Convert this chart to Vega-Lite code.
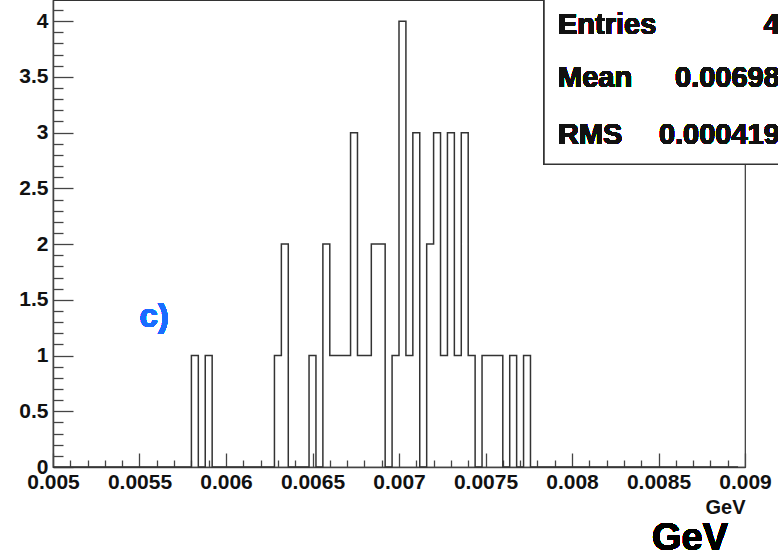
{
  "$schema": "https://vega.github.io/schema/vega-lite/v6.json",
  "width": 692,
  "height": 467,
  "autosize": {"type": "none"},
  "padding": {"left": 53, "top": 0, "right": 33, "bottom": 88},
  "background": "white",
  "config": {
    "view": {"stroke": "#333", "strokeWidth": 1.2},
    "axis": {
      "domainColor": "#444", "domainWidth": 1.5, "tickColor": "#444", "tickWidth": 1.3,
      "labelFont": "Liberation Sans", "labelFontWeight": "bold", "labelFontSize": 21, "labelColor": "#111",
      "titleFont": "Liberation Sans", "titleFontWeight": "bold", "titleFontSize": 20, "titleColor": "#111",
      "grid": false
    }
  },
  "data": {"values": [
    {"lo":0.005,"n":0},{"lo":0.00504,"n":0},{"lo":0.00508,"n":0},{"lo":0.00512,"n":0},{"lo":0.00516,"n":0},
    {"lo":0.0052,"n":0},{"lo":0.00524,"n":0},{"lo":0.00528,"n":0},{"lo":0.00532,"n":0},{"lo":0.00536,"n":0},
    {"lo":0.0054,"n":0},{"lo":0.00544,"n":0},{"lo":0.00548,"n":0},{"lo":0.00552,"n":0},{"lo":0.00556,"n":0},
    {"lo":0.0056,"n":0},{"lo":0.00564,"n":0},{"lo":0.00568,"n":0},{"lo":0.00572,"n":0},{"lo":0.00576,"n":0},
    {"lo":0.0058,"n":1},{"lo":0.00584,"n":0},{"lo":0.00588,"n":1},{"lo":0.00592,"n":0},{"lo":0.00596,"n":0},
    {"lo":0.006,"n":0},{"lo":0.00604,"n":0},{"lo":0.00608,"n":0},{"lo":0.00612,"n":0},{"lo":0.00616,"n":0},
    {"lo":0.0062,"n":0},{"lo":0.00624,"n":0},{"lo":0.00628,"n":1},{"lo":0.00632,"n":2},{"lo":0.00636,"n":0},
    {"lo":0.0064,"n":0},{"lo":0.00644,"n":0},{"lo":0.00648,"n":1},{"lo":0.00652,"n":0},{"lo":0.00656,"n":2},
    {"lo":0.0066,"n":1},{"lo":0.00664,"n":1},{"lo":0.00668,"n":1},{"lo":0.00672,"n":3},{"lo":0.00676,"n":1},
    {"lo":0.0068,"n":1},{"lo":0.00684,"n":2},{"lo":0.00688,"n":2},{"lo":0.00692,"n":0},{"lo":0.00696,"n":1},
    {"lo":0.007,"n":4},{"lo":0.00704,"n":1},{"lo":0.00708,"n":3},{"lo":0.00712,"n":0},{"lo":0.00716,"n":2},
    {"lo":0.0072,"n":3},{"lo":0.00724,"n":1},{"lo":0.00728,"n":3},{"lo":0.00732,"n":1},{"lo":0.00736,"n":3},
    {"lo":0.0074,"n":1},{"lo":0.00744,"n":0},{"lo":0.00748,"n":1},{"lo":0.00752,"n":1},{"lo":0.00756,"n":1},
    {"lo":0.0076,"n":0},{"lo":0.00764,"n":1},{"lo":0.00768,"n":0},{"lo":0.00772,"n":1},{"lo":0.00776,"n":0},
    {"lo":0.0078,"n":0},{"lo":0.00784,"n":0},{"lo":0.00788,"n":0},{"lo":0.00792,"n":0},{"lo":0.00796,"n":0},
    {"lo":0.008,"n":0},{"lo":0.00804,"n":0},{"lo":0.00808,"n":0},{"lo":0.00812,"n":0},{"lo":0.00816,"n":0},
    {"lo":0.0082,"n":0},{"lo":0.00824,"n":0},{"lo":0.00828,"n":0},{"lo":0.00832,"n":0},{"lo":0.00836,"n":0},
    {"lo":0.0084,"n":0},{"lo":0.00844,"n":0},{"lo":0.00848,"n":0},{"lo":0.00852,"n":0},{"lo":0.00856,"n":0},
    {"lo":0.0086,"n":0},{"lo":0.00864,"n":0},{"lo":0.00868,"n":0},{"lo":0.00872,"n":0},{"lo":0.00876,"n":0},
    {"lo":0.0088,"n":0},{"lo":0.00884,"n":0},{"lo":0.00888,"n":0},{"lo":0.00892,"n":0},{"lo":0.00896,"n":0}
  ]},
  "resolve": {"axis": {"x": "independent", "y": "independent"}},
  "layer": [
    {
      "mark": {"type": "line", "interpolate": "step-after", "stroke": "#333", "strokeWidth": 1.5},
      "encoding": {
        "x": {"field": "lo", "type": "quantitative",
              "scale": {"domain": [0.005, 0.009], "nice": false, "zero": false},
              "axis": {"orient": "bottom", "values": [0.005,0.0055,0.006,0.0065,0.007,0.0075,0.008,0.0085,0.009],
                       "format": "~g", "tickSize": -14, "labelPadding": 18, "labelFlush": false, "labelOverlap": false,
                       "title": "GeV", "titleAnchor": "end", "titleAlign": "right", "titlePadding": 5}},
        "y": {"field": "n", "type": "quantitative",
              "scale": {"domain": [0, 4.19], "nice": false},
              "axis": {"orient": "left", "values": [0,0.5,1,1.5,2,2.5,3,3.5,4],
                       "format": "~g", "tickSize": -20, "labelPadding": 25, "labelFlush": false, "labelOverlap": false,
                       "title": null}}
      }
    },
    {
      "mark": {"type": "line", "interpolate": "step-after", "strokeOpacity": 0},
      "encoding": {
        "x": {"field": "lo", "type": "quantitative",
              "axis": {"orient": "bottom", "values": [0.0051,0.0052,0.0053,0.0054,0.0056,0.0057,0.0058,0.0059,0.0061,0.0062,0.0063,0.0064,0.0066,0.0067,0.0068,0.0069,0.0071,0.0072,0.0073,0.0074,0.0076,0.0077,0.0078,0.0079,0.0081,0.0082,0.0083,0.0084,0.0086,0.0087,0.0088,0.0089],
                       "labels": false, "domain": false, "tickSize": -7, "title": null}},
        "y": {"field": "n", "type": "quantitative",
              "axis": {"orient": "left", "values": [0.1,0.2,0.3,0.4,0.6,0.7,0.8,0.9,1.1,1.2,1.3,1.4,1.6,1.7,1.8,1.9,2.1,2.2,2.3,2.4,2.6,2.7,2.8,2.9,3.1,3.2,3.3,3.4,3.6,3.7,3.8,3.9,4.1],
                       "labels": false, "domain": false, "tickSize": -10, "title": null}}
      }
    },
    {
      "mark": {"type": "rect", "fill": "white", "stroke": "#333", "strokeWidth": 1.5},
      "encoding": {
        "x": {"datum": 0.0078382, "axis": null}, "x2": {"datum": 0.0096},
        "y": {"datum": 2.716, "axis": null}, "y2": {"datum": 4.6}
      }
    },
    {
      "mark": {"type": "text", "text": "Entries", "align": "left", "baseline": "alphabetic", "font": "Liberation Sans", "fontWeight": "bold", "fontSize": 29, "color": "#111"},
      "encoding": {"x": {"datum": 0.0079191, "axis": null}, "y": {"datum": 3.885, "axis": null}}
    },
    {
      "mark": {"type": "text", "text": "Mean", "align": "left", "baseline": "alphabetic", "font": "Liberation Sans", "fontWeight": "bold", "fontSize": 29, "color": "#111"},
      "encoding": {"x": {"datum": 0.0079191, "axis": null}, "y": {"datum": 3.406, "axis": null}}
    },
    {
      "mark": {"type": "text", "text": "RMS", "align": "left", "baseline": "alphabetic", "font": "Liberation Sans", "fontWeight": "bold", "fontSize": 29, "color": "#111"},
      "encoding": {"x": {"datum": 0.0079191, "axis": null}, "y": {"datum": 2.896, "axis": null}}
    },
    {
      "mark": {"type": "text", "text": "48", "align": "right", "baseline": "alphabetic", "font": "Liberation Sans", "fontWeight": "bold", "fontSize": 29, "color": "#111"},
      "encoding": {"x": {"datum": 0.0092948, "axis": null}, "y": {"datum": 3.885, "axis": null}}
    },
    {
      "mark": {"type": "text", "text": "0.006983", "align": "right", "baseline": "alphabetic", "font": "Liberation Sans", "fontWeight": "bold", "fontSize": 29, "color": "#111"},
      "encoding": {"x": {"datum": 0.0092948, "axis": null}, "y": {"datum": 3.406, "axis": null}}
    },
    {
      "mark": {"type": "text", "text": "0.0004195", "align": "right", "baseline": "alphabetic", "font": "Liberation Sans", "fontWeight": "bold", "fontSize": 29, "color": "#111"},
      "encoding": {"x": {"datum": 0.0092948, "axis": null}, "y": {"datum": 2.896, "axis": null}}
    },
    {
      "mark": {"type": "text", "text": "c)", "align": "left", "baseline": "alphabetic", "font": "Liberation Sans", "fontWeight": "bold", "fontSize": 33, "color": "#1a6dff"},
      "encoding": {"x": {"datum": 0.0055, "axis": null}, "y": {"datum": 1.26, "axis": null}}
    },
    {
      "mark": {"type": "text", "text": "GeV", "align": "right", "baseline": "alphabetic", "font": "Liberation Sans", "fontWeight": "bold", "fontSize": 38, "color": "#000"},
      "encoding": {"x": {"datum": 0.0089017, "axis": null}, "y": {"datum": -0.746, "axis": null}}
    }
  ]
}
